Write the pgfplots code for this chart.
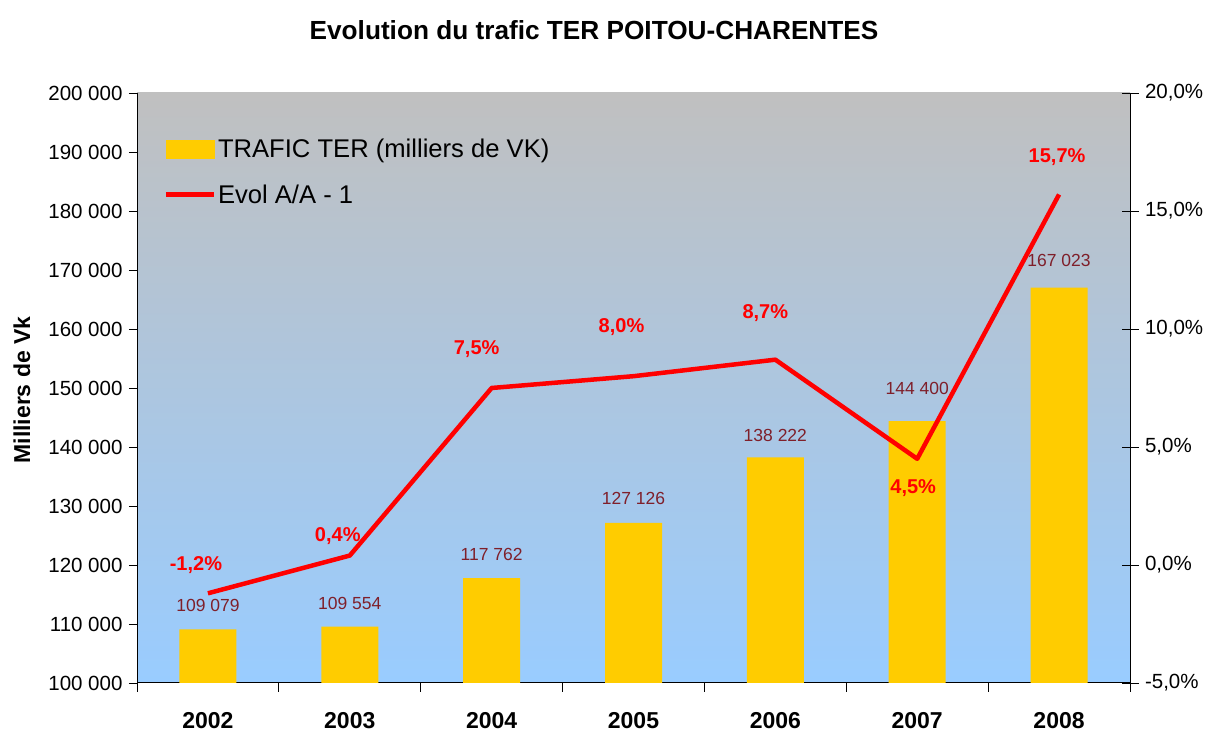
\documentclass[border=0pt]{standalone}
\usepackage{pgfplots}
\usepackage{pgfplotstable}
\pgfplotsset{compat=1.18}
\usepackage{fontspec}
\setmainfont{Liberation Sans}
\definecolor{barcol}{HTML}{FFCC00}
\definecolor{lblcol}{HTML}{7F1F2A}
\definecolor{bgtop}{HTML}{C0C0C0}
\definecolor{bgbot}{HTML}{99CCFF}
\definecolor{linecol}{HTML}{FF0000}

\pgfplotstableread[col sep=semicolon]{
x;y;lbl;dy
0;109079;109 079;24
1;109554;109 554;23
2;117762;117 762;24
3;127126;127 126;24
4;138222;138 222;22
5;144400;144 400;33
6;167023;167 023;27
}\bardata

\pgfplotstableread[col sep=semicolon]{
x;y;lbl;dx;dy
0;-1.2;-1,2\%;-12;28
1;0.4;0,4\%;-12;19
2;7.5;7,5\%;-15;39
3;8.0;8,0\%;-12;49
4;8.7;8,7\%;-10;47
5;4.5;4,5\%;-4;-29
6;15.7;15,7\%;-2;37
}\evoldata

\begin{document}
\begin{tikzpicture}[x=1pt,y=1pt]
\path[use as bounding box] (0,0) rectangle (1208,738);
\begin{axis}[
  at={(137pt,55pt)}, anchor=south west, scale only axis,
  width=993pt, height=590pt,
  xmin=-0.5, xmax=6.5, ymin=100000, ymax=200000,
  scaled y ticks=false,
  axis x line*=bottom, axis y line*=left,
  axis line style={-, black, line width=1pt},
  axis background/.style={top color=bgtop, bottom color=bgbot},
  xtick={0,1,2,3,4,5,6},
  xticklabels={2002,2003,2004,2005,2006,2007,2008},
  minor xtick={-0.5,0.5,1.5,2.5,3.5,4.5,5.5,6.5},
  major x tick style={draw=none},
  minor tick length=9pt, major tick length=8pt, tick align=outside,
  tick style={black, line width=0.8pt},
  ytick={100000,110000,120000,130000,140000,150000,160000,170000,180000,190000,200000},
  yticklabels={100 000,110 000,120 000,130 000,140 000,150 000,160 000,170 000,180 000,190 000,200 000},
  xticklabel style={font=\bfseries\fontsize{23}{23}\selectfont, yshift=-18pt},
  yticklabel style={font=\fontsize{20.5}{20.5}\selectfont, xshift=-3pt},
  clip=false,
]
\addplot[ybar, bar width=57pt, fill=barcol, draw=none,
  nodes near coords, point meta=explicit symbolic,
  visualization depends on={\thisrow{dy} \as \dy},
  every node near coord/.append style={font=\fontsize{17.5}{17.5}\selectfont, text=lblcol, anchor=center, yshift=\dy pt}]
  table[x=x, y=y, meta=lbl] {\bardata};
\end{axis}
\begin{axis}[
  at={(137pt,55pt)}, anchor=south west, scale only axis,
  width=993pt, height=590pt,
  xmin=-0.5, xmax=6.5, ymin=-5, ymax=20,
  axis x line=none, axis y line*=right,
  axis line style={-, black, line width=1pt},
  ytick={-5,0,5,10,15,20},
  yticklabels={{-5,0\%},{0,0\%},{5,0\%},{10,0\%},{15,0\%},{20,0\%}},
  tick align=center, major tick length=17pt,
  tick style={black, line width=0.8pt},
  yticklabel style={font=\fontsize{20.5}{20.5}\selectfont, anchor=west, xshift=3pt},
  legend style={draw=none, fill=none, at={(0.0265,0.925)}, anchor=north west,
    font=\fontsize{25.6}{25.6}\selectfont, row sep=21pt, inner sep=0pt,
    /tikz/every even column/.style={column sep=3pt}},
  legend cell align=left,
  clip=false,
]
\addlegendimage{legend image code/.code={\fill[barcol] (0pt,-9pt) rectangle (48pt,9pt);}}
\addlegendentry{TRAFIC TER (milliers de VK)}
\addplot[linecol, line width=4.5pt, line join=round, mark=none,
  legend image code/.code={\draw[linecol, line width=4.5pt] (0pt,0pt) -- (48pt,0pt);},
  nodes near coords, point meta=explicit symbolic,
  visualization depends on={\thisrow{dx} \as \dx},
  visualization depends on={\thisrow{dy} \as \dy},
  every node near coord/.append style={font=\bfseries\fontsize{20}{20}\selectfont, text=linecol, anchor=center, xshift=\dx pt, yshift=\dy pt}]
  table[x=x, y=y, meta=lbl] {\evoldata};
\addlegendentry{Evol A/A - 1}
\end{axis}
\node[font=\bfseries\fontsize{26.2}{26.2}\selectfont] at (594,708) {Evolution du trafic TER POITOU-CHARENTES};
\node[font=\bfseries\fontsize{23}{23}\selectfont, rotate=90] at (22,348) {Milliers de Vk};
\end{tikzpicture}
\end{document}
